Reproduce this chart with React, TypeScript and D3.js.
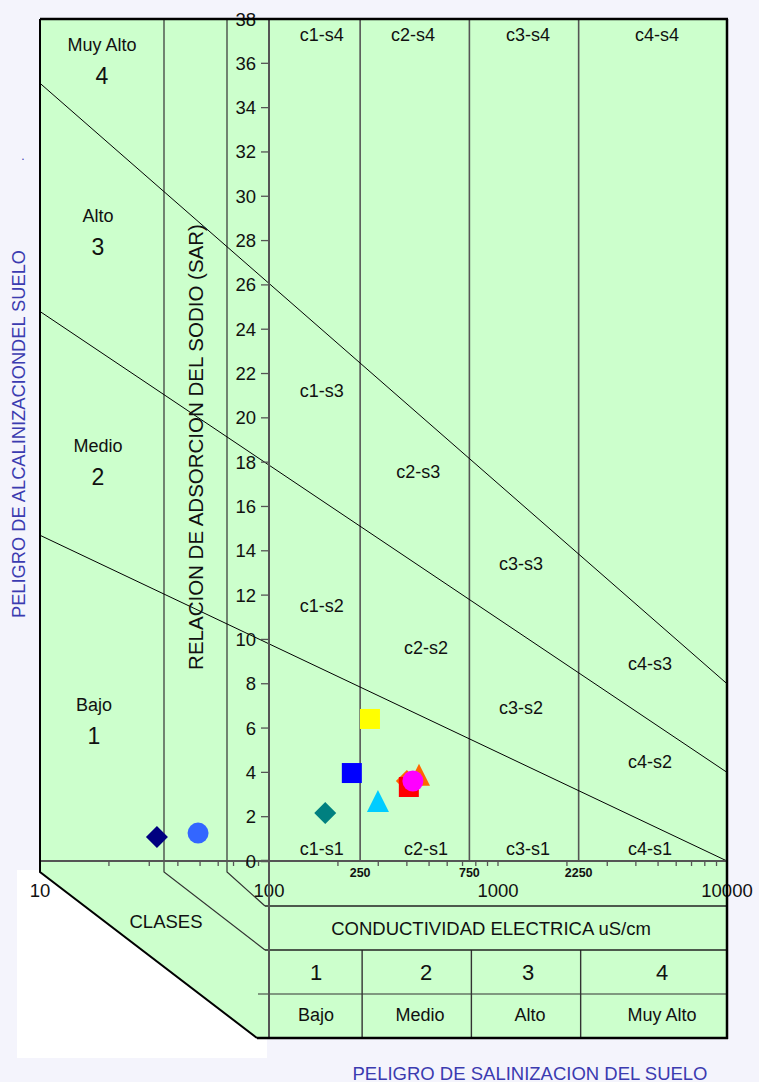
import React from "react";
import * as d3 from "d3";

// ---- data ----
const classBounds = [250, 750, 2250];
const sarTicks = d3.range(0, 39, 2);
const majorEC = [10, 100, 1000, 10000];
const boundLabels = ["250", "750", "2250"];

// sodium hazard boundary lines: [EC, SAR] endpoints
const lineS1S2: [number, number][] = [[10, 14.7], [10000, 0]];
const lineS2S3: [number, number][] = [[10, 24.8], [10000, 4.0]];
const lineS3S4: [number, number][] = [[10, 35.1], [10000, 8.0]];

// samples
const sampleEC = [32.4, 49, 176, 230, 276, 299, 400, 452, 408, 425];
const sampleSAR = [1.08, 1.26, 2.17, 3.97, 6.41, 2.55, 3.61, 3.74, 3.34, 3.61];
const sampleShape = ["diamond", "circle", "diamond", "square", "square", "triangle", "diamond", "triangle", "square", "circle"];
const sampleColor = ["#000080", "#3366ff", "#008080", "#0000ff", "#ffff00", "#00ccff", "#ff6600", "#ff6600", "#ff0000", "#ff00ff"];

const zoneLabels = [
  { t: "c1-s4", ec: 170, sar: 37.3 }, { t: "c2-s4", ec: 425, sar: 37.3 }, { t: "c3-s4", ec: 1352, sar: 37.3 }, { t: "c4-s4", ec: 4943, sar: 37.3 },
  { t: "c1-s3", ec: 170, sar: 21.2 }, { t: "c2-s3", ec: 448, sar: 17.55 }, { t: "c3-s3", ec: 1259, sar: 13.4 }, { t: "c4-s3", ec: 4613, sar: 8.9 },
  { t: "c1-s2", ec: 170, sar: 11.5 }, { t: "c2-s2", ec: 485, sar: 9.6 }, { t: "c3-s2", ec: 1259, sar: 6.9 }, { t: "c4-s2", ec: 4613, sar: 4.45 },
  { t: "c1-s1", ec: 170, sar: 0.55 }, { t: "c2-s1", ec: 485, sar: 0.55 }, { t: "c3-s1", ec: 1352, sar: 0.55 }, { t: "c4-s1", ec: 4613, sar: 0.55 },
];
const hazardNames = ["Muy Alto", "Alto", "Medio", "Bajo"];
const hazardNums = ["4", "3", "2", "1"];
const salNums = ["1", "2", "3", "4"];
const salNames = ["Bajo", "Medio", "Alto", "Muy Alto"];

const FONT = "'Liberation Sans', Arial, sans-serif";

export default function App() {
  const W = 759, H = 1082;
  const x = d3.scaleLog().domain([10, 10000]).range([40, 727]);
  const y = d3.scaleLinear().domain([0, 38]).range([861, 19]);
  const x0 = x(10), x1 = x(10000), yTop = y(38), yBot = y(0);
  const yAxisX = x(100);

  const minorTicks: number[] = [];
  [10, 100, 1000].forEach((d) => { for (let k = 2; k <= 10; k++) minorTicks.push(d * k); });

  const line = d3.line<[number, number]>().x((d) => x(d[0])).y((d) => y(d[1]));

  const marker = (shape: string, cx: number, cy: number, color: string, i: number) => {
    if (shape === "circle") return <circle key={i} cx={cx} cy={cy} r={10.5} fill={color} />;
    if (shape === "square") return <rect key={i} x={cx - 10} y={cy - 10} width={20} height={20} fill={color} />;
    if (shape === "diamond") return <path key={i} d={`M${cx},${cy - 11}L${cx + 11},${cy}L${cx},${cy + 11}L${cx - 11},${cy}Z`} fill={color} />;
    return <path key={i} d={`M${cx},${cy - 14.5}L${cx + 11},${cy + 7.5}L${cx - 11},${cy + 7.5}Z`} fill={color} />;
  };

  const numX = [316, 426, 528, 662];
  const nameX = [316, 420, 530, 662];
  const hazY = [45, 216, 446, 705];
  const hazX = [102, 98, 98, 94];

  return (
    <svg width={W} height={H} style={{ position: "absolute", left: 0, top: 0, fontFamily: FONT }}>
      <rect x={0} y={0} width={W} height={H} fill="#f4f4fc" />
      <rect x={17} y={870} width={250} height={188} fill="#ffffff" />
      {/* green body */}
      <path d={`M${x0},${yTop}L${x1},${yTop}L${x1},1038L257,1038L${x0},872Z`} fill="#ccffcc" />

      {/* left class columns */}
      <path d={`M164,${yTop}L164,872L265,950`} fill="none" stroke="#333" strokeWidth={1.2} />
      <path d={`M227,${yTop}L227,872L265,906`} fill="none" stroke="#333" strokeWidth={1.2} />

      {/* class boundary verticals */}
      {classBounds.map((d, i) => (
        <line key={i} x1={x(d)} x2={x(d)} y1={yTop} y2={yBot} stroke="#555" strokeWidth={1.6} />
      ))}
      {classBounds.map((d, i) => (
        <line key={"t" + i} x1={x(d) + 2} x2={x(d) + 2} y1={950} y2={1038} stroke="#333" strokeWidth={1.4} />
      ))}

      {/* sodium lines */}
      {[lineS1S2, lineS2S3, lineS3S4].map((l, i) => (
        <path key={i} d={line(l) || ""} fill="none" stroke="#000" strokeWidth={1} />
      ))}

      {/* table horizontals */}
      <line x1={265} x2={x1} y1={906} y2={906} stroke="#222" strokeWidth={1.3} />
      <line x1={265} x2={x1} y1={950} y2={950} stroke="#222" strokeWidth={1.3} />
      <line x1={258} x2={x1} y1={994} y2={994} stroke="#333" strokeWidth={1.2} />

      {/* x axis */}
      <line x1={x0} x2={x1} y1={yBot} y2={yBot} stroke="#555" strokeWidth={2} />
      {minorTicks.map((d, i) => (
        <line key={i} x1={x(d)} x2={x(d)} y1={yBot} y2={yBot + 5} stroke="#555" strokeWidth={1.3} />
      ))}
      {majorEC.map((d, i) => (
        <text key={i} x={x(d)} y={890} fontSize={18.5} textAnchor="middle" dominantBaseline="central" fill="#111">{d}</text>
      ))}
      {classBounds.map((d, i) => (
        <text key={i} x={x(d)} y={873} fontSize={12.5} fontWeight="bold" textAnchor="middle" dominantBaseline="central" fill="#111">{boundLabels[i]}</text>
      ))}

      {/* y axis */}
      <line x1={yAxisX} x2={yAxisX} y1={yTop} y2={1038} stroke="#555" strokeWidth={2} />
      {sarTicks.map((d) => (
        <g key={d}>
          <line x1={yAxisX - 8} x2={yAxisX} y1={y(d)} y2={y(d)} stroke="#555" strokeWidth={d === 0 ? 2.5 : 1.3} />
          <text x={256} y={y(d)} fontSize={18.5} textAnchor="end" dominantBaseline="central" fill="#111">{d}</text>
        </g>
      ))}

      {/* zone labels */}
      {zoneLabels.map((z, i) => (
        <text key={i} x={x(z.ec)} y={y(z.sar)} fontSize={18} textAnchor="middle" dominantBaseline="central" fill="#111">{z.t}</text>
      ))}

      {/* hazard classes left */}
      {hazardNames.map((n, i) => (
        <g key={i}>
          <text x={hazX[i]} y={hazY[i]} fontSize={18} textAnchor="middle" dominantBaseline="central" fill="#111">{n}</text>
          <text x={hazX[i]} y={hazY[i] + 31} fontSize={23} textAnchor="middle" dominantBaseline="central" fill="#111">{hazardNums[i]}</text>
        </g>
      ))}

      {/* markers */}
      {sampleEC.map((ec, i) => marker(sampleShape[i], x(ec), y(sampleSAR[i]), sampleColor[i], i))}

      {/* table texts */}
      <text x={166} y={921} fontSize={18.5} textAnchor="middle" dominantBaseline="central" fill="#111">CLASES</text>
      <text x={491} y={928} fontSize={18.5} textAnchor="middle" dominantBaseline="central" fill="#111">CONDUCTIVIDAD ELECTRICA uS/cm</text>
      {salNums.map((n, i) => (
        <g key={i}>
          <text x={numX[i]} y={972} fontSize={22} textAnchor="middle" dominantBaseline="central" fill="#111">{n}</text>
          <text x={nameX[i]} y={1015} fontSize={18} textAnchor="middle" dominantBaseline="central" fill="#111">{salNames[i]}</text>
        </g>
      ))}

      {/* borders */}
      <line x1={x0} x2={x1 + 1} y1={yTop} y2={yTop} stroke="#000" strokeWidth={2.5} />
      <line x1={x1} x2={x1} y1={yTop} y2={1039} stroke="#000" strokeWidth={2.5} />
      <line x1={257} x2={x1 + 1} y1={1038} y2={1038} stroke="#000" strokeWidth={2.5} />
      <path d={`M${x0},${yTop}L${x0},872L257,1038`} fill="none" stroke="#000" strokeWidth={2} />

      {/* SAR title */}
      <text transform={`translate(195,447) rotate(-90)`} fontSize={20.5} textAnchor="middle" dominantBaseline="central" fill="#111">RELACION DE ADSORCION DEL SODIO (SAR)</text>

      {/* outer titles */}
      <text transform={`translate(18,434) rotate(-90)`} fontSize={18.3} textAnchor="middle" dominantBaseline="central" fill="#3b3bb0">PELIGRO DE ALCALINIZACIONDEL SUELO</text>
      <text x={23} y={160} fontSize={12} textAnchor="middle" fill="#3b3bb0">.</text>
      <text x={530} y={1073} fontSize={18.5} textAnchor="middle" dominantBaseline="central" fill="#3b3bb0">PELIGRO DE SALINIZACION DEL SUELO</text>
    </svg>
  );
}
